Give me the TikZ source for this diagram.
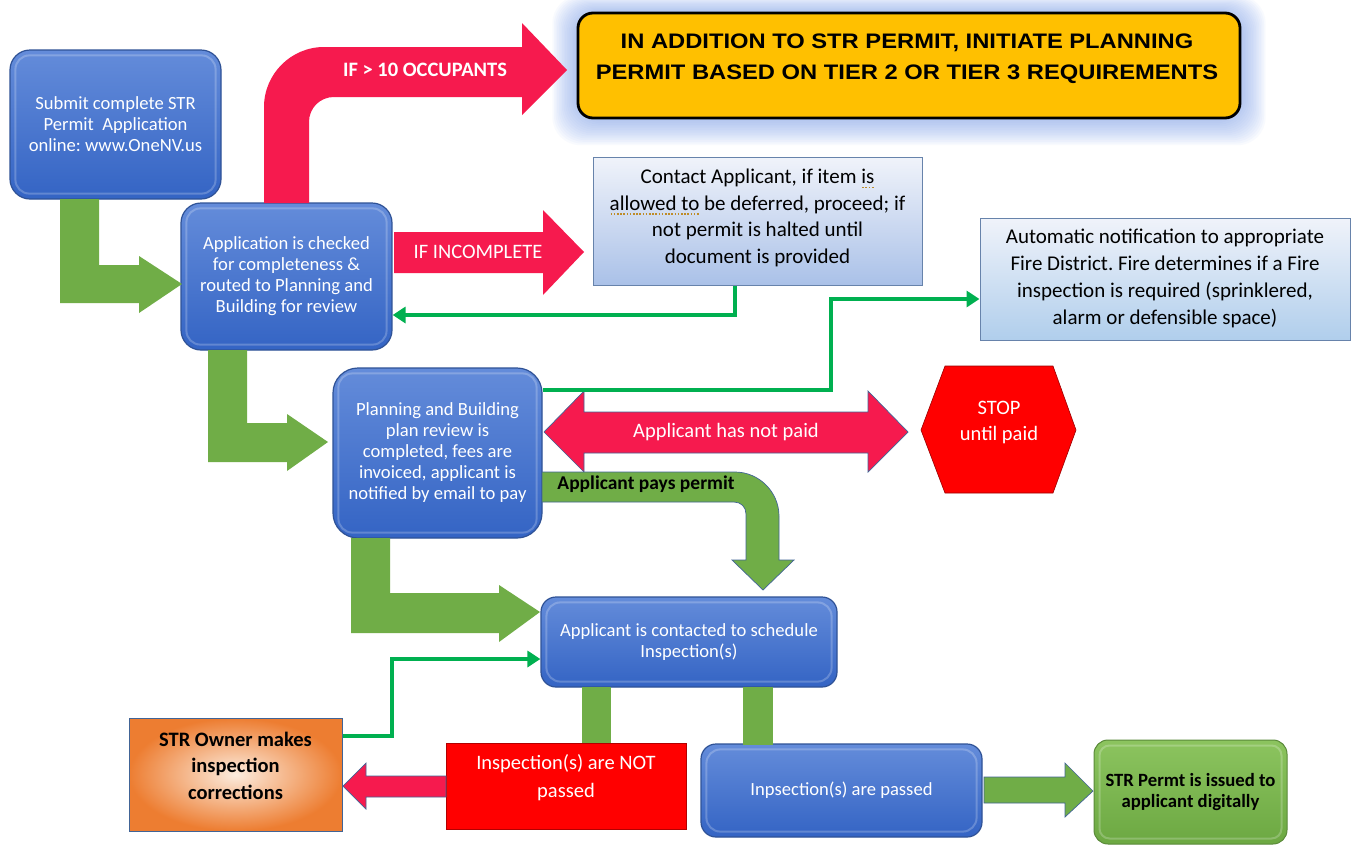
\documentclass[tikz,border=0pt]{standalone}
\usepackage{fontspec}
\setmainfont{Carlito}
\newfontfamily\headfont{Liberation Sans}
\usetikzlibrary{arrows.meta,calc}
\frenchspacing
\definecolor{bluetop}{RGB}{100,140,218}
\definecolor{bluebot}{RGB}{52,100,196}
\definecolor{blueedge}{RGB}{47,82,150}
\definecolor{arrred}{RGB}{246,26,78}
\definecolor{garr}{RGB}{112,173,71}
\definecolor{lgreen}{RGB}{0,176,80}
\definecolor{yel}{RGB}{255,192,0}
\definecolor{glow}{RGB}{130,165,240}
\definecolor{paletop}{RGB}{240,243,250}
\definecolor{palebot}{RGB}{170,193,232}
\definecolor{firebot}{RGB}{176,206,236}
\definecolor{outl}{RGB}{65,100,150}
\definecolor{orng}{RGB}{237,125,49}
\definecolor{orlight}{RGB}{252,236,222}
\definecolor{grtop}{RGB}{140,196,95}
\definecolor{grbot}{RGB}{108,168,66}
\definecolor{spellc}{RGB}{190,140,40}
\newcommand\gramu[1]{\setbox0\hbox{#1}\leavevmode\rlap{\lower4.5pt\hbox to \wd0{\textcolor{spellc}{\xleaders\hbox to 3.2pt{\hss\rule{1.6pt}{1.5pt}\hss}\hfill}}}\box0\relax}
\tikzset{
  bluebox/.style={rounded corners=20, top color=bluetop, bottom color=bluebot, draw=blueedge, line width=1.2pt, text=white, align=center, font=\fontsize{18.6}{21}\selectfont, inner sep=0pt},
  palebox/.style={top color=paletop, bottom color=palebot, draw=outl!80, line width=1pt, align=center, inner sep=0pt},
  gline/.style={draw=lgreen, line width=3.5pt, -{Triangle[length=13pt,width=16pt]}},
  redarr/.style={fill=arrred},
  greenarr/.style={fill=garr},
  wlabel/.style={text=white, font=\fontsize{20.5}{22}\selectfont, align=center, inner sep=0pt},
  blabel/.style={text=black, font=\bfseries\fontsize{18.7}{21}\selectfont, align=center, inner sep=0pt},
}
\begin{document}
\begin{tikzpicture}[x=1pt,y=-1pt]
\useasboundingbox[fill=white] (0,0) rectangle (1353,844);

% glow behind yellow box
\foreach \i in {1,...,16}{
  \fill[glow,opacity=0.05,rounded corners=28pt] (578-1.6*\i,13-1.1*\i) rectangle (1240+1.6*\i,118+1.7*\i);
}
\node[rounded corners=15, fill=yel, draw=black, line width=2.8pt, minimum width=662pt, minimum height=105pt, inner sep=0pt] (yelbox) at (909,65.5) {};
\node[font=\headfont\bfseries\fontsize{21}{31}\selectfont, inner sep=0pt] (yeltxt) at (907,57.5) {\scalebox{1.13}[1]{\begin{tabular}{@{}c@{}}IN ADDITION TO STR PERMIT, INITIATE PLANNING\\PERMIT BASED ON TIER 2 OR TIER 3 REQUIREMENTS\end{tabular}}};

% boxes
\node[bluebox, minimum width=211pt, minimum height=149pt] (sub) at (115.5,124.5) {Submit complete STR\\Permit\ \ Application\\online: www.OneNV.us};
\node[bluebox, minimum width=211pt, minimum height=147pt] (app) at (286.5,276.5) {Application is checked\\for completeness \&\\routed to Planning and\\Building for review};
\node[bluebox, rounded corners=25, minimum width=209pt, minimum height=170pt] (plan) at (437.5,453) {Planning and Building\\plan review is\\completed, fees are\\invoiced, applicant is\\notified by email to pay};
\node[bluebox, rounded corners=15, minimum width=296pt, minimum height=90pt] (sched) at (689,642) {Applicant is contacted to schedule\\Inspection(s)};
\node[bluebox, rounded corners=15, minimum width=281pt, minimum height=93pt] (passed) at (841.5,790.5) {Inpsection(s) are passed};
\foreach \n in {sub,app,plan,sched,passed}{
  \draw[white,opacity=0.22,line width=2pt,rounded corners=14] ($(\n.north west)+(6,6)$) rectangle ($(\n.south east)+(-6,-6)$);
}

\node[palebox, minimum width=329pt, minimum height=128pt] (contact) at (757.5,221) {};
\node[font=\fontsize{21}{26.7}\selectfont, align=center, inner sep=0pt] (contacttxt) at (757.5,218) {Contact Applicant, if item \gramu{is}\\\gramu{allowed to} be deferred, proceed; if\\not permit is halted until\\document is provided};
\node[palebox, bottom color=firebot, minimum width=370pt, minimum height=122pt] (fire) at (1165,279) {};
\node[font=\fontsize{21}{27}\selectfont, align=center, inner sep=0pt] (firetxt) at (1165,278.5) {Automatic notification to appropriate\\Fire District. Fire determines if a Fire\\inspection is required (sprinklered,\\alarm or defensible space)};

\node[fill=red, draw=red!70!black, line width=0.8pt, minimum width=240pt, minimum height=86pt, inner sep=0pt] (notp) at (566,786) {};
\node[wlabel] (notptxt) at (566,778) {Inspection(s) are NOT\\[6pt]passed};

\node[shading=radial, inner color=orlight, outer color=orng, draw=outl, line width=1pt, minimum width=213pt, minimum height=113pt, inner sep=0pt] (owner) at (235.5,774.5) {};
\node[blabel, font=\bfseries\fontsize{20.5}{26.5}\selectfont] (ownertxt) at (235.5,765.5) {STR Owner makes\\inspection\\corrections};

\node[rounded corners=14, top color=grtop, bottom color=grbot, draw=garr!80!black, line width=1pt, minimum width=193pt, minimum height=104pt, inner sep=0pt, blabel] (permit) at (1190.5,792) {STR Permt is issued to\\applicant digitally};
\draw[white,opacity=0.22,line width=2pt,rounded corners=10] ($(permit.north west)+(6,6)$) rectangle ($(permit.south east)+(-6,-6)$);

% STOP hexagon
\filldraw[fill=red, draw=red!60!black, line width=0.6pt] (921,430) -- (945,366) -- (1053,366) -- (1076,430) -- (1053,493) -- (945,493) -- cycle;
\node[wlabel, font=\fontsize{20.5}{26}\selectfont] (stop) at (999,422) {STOP\\until paid};

% red curved arrow (IF > 10 OCCUPANTS)
\fill[redarr] (264,203) -- (264,107) .. controls (264,74) and (291,47) .. (324,47) -- (522,47) -- (522,23) -- (567,70) -- (522,115) -- (522,97) -- (334,97) .. controls (320,97) and (309,108) .. (309,122) -- (309,203) -- cycle;
\node[wlabel, font=\bfseries\fontsize{20.5}{22}\selectfont] (occ) at (425,70) {IF > 10 OCCUPANTS};

% IF INCOMPLETE arrow
\fill[redarr] (394,232) -- (543,232) -- (543,210) -- (584,252) -- (543,295) -- (543,273) -- (394,273) -- cycle;
\node[wlabel] (incomp) at (478,252) {IF INCOMPLETE};

% double arrow
\filldraw[redarr, draw=outl, line width=0.7pt] (544,432) -- (584,391) -- (584,412) -- (868,412) -- (868,391) -- (908,432) -- (868,472) -- (868,453) -- (584,453) -- (584,472) -- cycle;
\node[wlabel] (notpaid) at (726,432) {Applicant has not paid};

% green curved arrow (Applicant pays permit)
\filldraw[greenarr, draw=outl, line width=0.7pt] (542,472) -- (735,472) .. controls (759,472) and (779,492) .. (779,516) -- (779,560) -- (794,560) -- (763,590) -- (732,560) -- (746,560) -- (746,514) .. controls (746,507) and (741,502) .. (734,502) -- (542,502) -- cycle;
\node[blabel, font=\bfseries\fontsize{19.5}{21}\selectfont] (pays) at (646,484) {Applicant pays permit};

% green L arrows
\fill[greenarr] (60,199) -- (99,199) -- (99,265) -- (139,265) -- (139,256) -- (182,284) -- (139,313) -- (139,303) -- (60,303) -- cycle;
\fill[greenarr] (208,350) -- (247,350) -- (247,423) -- (287,423) -- (287,414) -- (328,442) -- (287,471) -- (287,462) -- (208,462) -- cycle;
\fill[greenarr] (351,538) -- (390,538) -- (390,593) -- (499,593) -- (499,585) -- (540,612) -- (499,642) -- (499,633) -- (351,633) -- cycle;

% green bars from schedule box
\fill[greenarr] (582,687) rectangle (611,743);
\fill[greenarr] (743,687) rectangle (773,745);

% bottom arrows
\filldraw[redarr, draw=outl, line width=0.7pt] (446,776) -- (366,776) -- (366,763) -- (343,786) -- (366,809) -- (366,797) -- (446,797) -- cycle;
\filldraw[greenarr, draw=outl, line width=0.7pt] (984,777) -- (1065,777) -- (1065,763) -- (1093,791) -- (1065,817) -- (1065,803) -- (984,803) -- cycle;

% thin green connectors
\coordinate (c1) at (735,315);
\draw[gline] (contact.south -| c1) -- (c1) -- (app.east |- c1);
\coordinate (c2) at (831,390);
\coordinate (c3) at (831,299);
\draw[gline] (plan.east |- c2) -- (c2) -- (c3) -- (fire.west |- c3);
\coordinate (c4) at (392,736);
\coordinate (c5) at (392,659);
\draw[gline] (owner.east |- c4) -- (c4) -- (c5) -- (sched.west |- c5);
\end{tikzpicture}
\end{document}
